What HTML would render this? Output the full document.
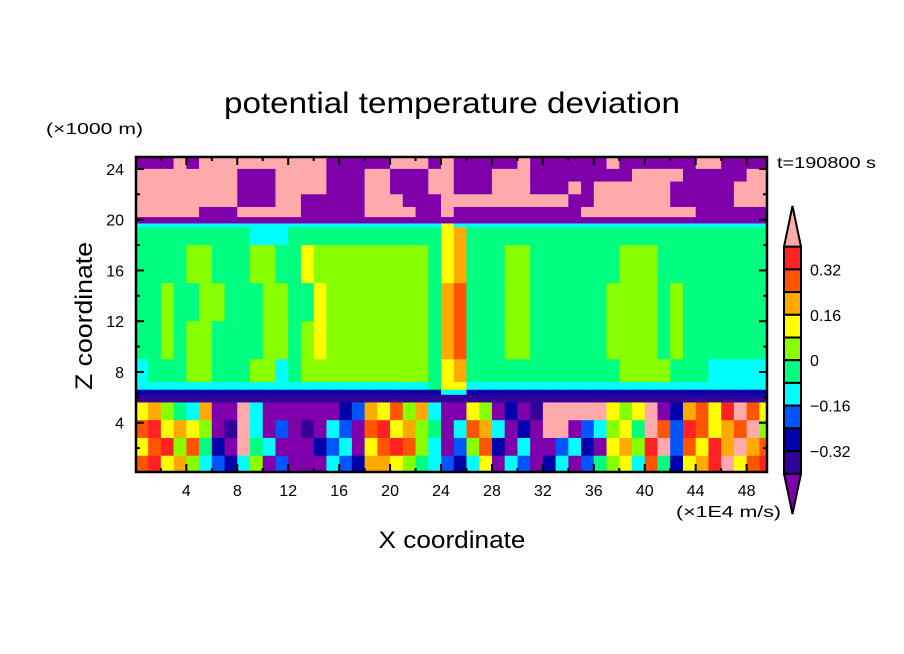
<!DOCTYPE html>
<html><head><meta charset="utf-8"><style>
html,body{margin:0;padding:0;background:#fff;}
svg{display:block;font-family:"Liberation Sans",sans-serif;}
</style></head><body>
<svg id="chart" width="904" height="654" viewBox="0 0 904 654">
<text x="452" y="113" font-size="30" text-anchor="middle" textLength="456" lengthAdjust="spacingAndGlyphs">potential temperature deviation</text>
<text x="46" y="134" font-size="16" textLength="97" lengthAdjust="spacingAndGlyphs">(×1000 m)</text>
<text x="777" y="168" font-size="16" textLength="99" lengthAdjust="spacingAndGlyphs">t=190800 s</text>
<text x="0" y="0" font-size="24" text-anchor="middle" transform="translate(92,316) rotate(-90)" textLength="148" lengthAdjust="spacingAndGlyphs">Z coordinate</text>
<text x="452" y="548" font-size="24" text-anchor="middle" textLength="147" lengthAdjust="spacingAndGlyphs">X coordinate</text>
<text x="676" y="517" font-size="16" textLength="105" lengthAdjust="spacingAndGlyphs">(×1E4 m/s)</text>
<defs><clipPath id="plotclip"><rect x="136" y="157" width="631" height="315"/></clipPath></defs>
<g id="field" clip-path="url(#plotclip)"></g>
<g id="axes"></g>
<g id="cbar"></g>
</svg>
<script>
const xMin = 0, xMax = 49.6, zMin = 0, zMax = 25;
const xTicks = [4,8,12,16,20,24,28,32,36,40,44,48];
const zTicks = [4,8,12,16,20,24];
const rowTop =    [25,24,23,22,21,20.2,19.7,19.4,18,15,12,9,7.2,6.6,6.2,5.6,4.2,2.8,1.4];
const rowBottom = [24,23,22,21,20.2,19.7,19.4,18,15,12,9,7.2,6.6,6.2,5.6,4.2,2.8,1.4,0];
const rowCodes = [
"PPPkPkkkkkkkkkkPPPPPkkkPkPPPPPkPPPPPPkPPPPPPkkPPPP",
"kkkkkkkkPPPkkkkPPPkkPPPkkPPPkkkPPPPPPPPkkkkPPPPPkk",
"kkkkkkkkPPPkkkkPPPkkPPPkkPPPkkkPPPkPkkkkkkPPPPPkkk",
"kkkkkkkkPPPkkPPPPPkkkPPPkkkkkkkkkkPPkkkkkkPPPPPkkk",
"kkkkkPPPkkkkkPPPPPkkkkPPkPPPPPPPPPPkkkkkkkkkPPPPPP",
"PPPPPPPPPPPPPPPPPPPPPPPPPPPPPPPPPPPPPPPPPPPPPPPPPP",
"ccccccccccccccccccccccccYccccccccccccccccccccccccc",
"gggggggggcccggggggggggggYogggggggggggggggggggggggg",
"ggggyygggyyggYyyyyyyyyygYogggyygggggggyyyggggggggg",
"ggyggyygggyyggYyyyyyyyygoOgggyyggggggyyyygyggggggg",
"ggygyyggggyygyYyyyyyyyygoOgggyyggggggyyyygyggggggg",
"cgggyygggyycgyyyyyyyyyygYoggggggggggggyyyygggcccccc",
"cccccccccccccccccccccccgYYcccccccccccccccccccccccc",
"ddddddddddddddddddddddddccdddddddddddddddddddddddd",
"iiiiiiiiiiiiiiiiiiiiiiiiiiiiiiiiiiiiiiiiiiiiiiiiii",
"YoygcoPPkcPPPPPPdboYOyocPPYyPdPikkkkkYyYkPdoOYrkOY",
"OrYoYyPikcPbPiPcbPOrYoygPcOocPdPkkPbcyYgkObrOYoOky",
"YOryOgdPkgcPPPdbcPYOrOycPbyOdPcPPbcdPYoyrkbOYrokoO",
"OrYoycbdcyPbPPPcbdooYygcbdcYPcbPdcPbgyYcOgdYorkYOr"
];
const palette = {P:"#7f00aa",i:"#330099",d:"#0000aa",b:"#0055ff",c:"#00ffff",g:"#00ff80",y:"#88ff00",Y:"#ffff00",o:"#ffaa00",O:"#ff5500",r:"#ff2222",k:"#ffaaaa"};
const cbarCodes = ["r","O","o","Y","y","g","c","b","d","i"];
const cbarLabels = ["0.32","0.16","0","-0.16","-0.32"];
const cbarLabelIdx = [1,3,5,7,9];

const X0 = 135.4, X1 = 767, Y0 = 473.5, Y1 = 156.2;
function xs(v){return X0 + (v - xMin) / (xMax - xMin) * (X1 - X0);}
function zs(v){return Y0 - (v - zMin) / (zMax - zMin) * (Y0 - Y1);}
const NS = "http://www.w3.org/2000/svg";
function mk(tag, attrs, parent){const e=document.createElementNS(NS,tag);for(const k in attrs)e.setAttribute(k,attrs[k]);parent.appendChild(e);return e;}

const field = document.getElementById('field');
for (let r = 0; r < rowCodes.length; r++) {
  const s = rowCodes[r];
  const y = zs(rowTop[r]), h = zs(rowBottom[r]) - y;
  for (let j = 0; j < s.length; j++) {
    const x = xs(j), w = xs(j + 1) - x;
    const el = mk('rect', {x: x, y: y, width: w + 0.6, height: h + 0.6, fill: palette[s[j]]}, field);
    
    
  }
}

const axes = document.getElementById('axes');
const frame = mk('rect', {x:136, y:157, width:631, height:315, fill:"none", stroke:"#000", "stroke-width":2.5}, axes);


for (let v = 2; v < xMax; v += 2) {
  const major = xTicks.includes(v), L = major ? 8 : 4, x = xs(v);
  mk('line', {x1:x, y1:472, x2:x, y2:472-L, stroke:"#000", "stroke-width":2}, axes);
  mk('line', {x1:x, y1:157, x2:x, y2:157+L, stroke:"#000", "stroke-width":2}, axes);
}
for (const v of xTicks) {
  const t = mk('text', {x: xs(v), y: 496, "font-size": 16, "text-anchor": "middle"}, axes);
  t.textContent = v;
  
  
}
for (let v = 2; v < zMax; v += 2) {
  const major = zTicks.includes(v), L = major ? 8 : 4, y = zs(v);
  mk('line', {x1:136, y1:y, x2:136+L, y2:y, stroke:"#000", "stroke-width":2}, axes);
  mk('line', {x1:767, y1:y, x2:767-L, y2:y, stroke:"#000", "stroke-width":2}, axes);
}
for (const v of zTicks) {
  const t = mk('text', {x: 124, y: zs(v) + 6, "font-size": 16, "text-anchor": "end"}, axes);
  t.textContent = v;
  
  
}

const cbar = document.getElementById('cbar');
const cbX = 784, cbW = 17, cbTop = 246.7, cbBox = 22.7;
const tri1 = mk('polygon', {points: `${cbX},${cbTop} ${cbX+cbW},${cbTop} ${cbX+cbW/2},206`, fill: palette.k, stroke:"#000", "stroke-width":2}, cbar);


const cbBottom = cbTop + cbBox * cbarCodes.length;
const tri2 = mk('polygon', {points: `${cbX},${cbBottom} ${cbX+cbW},${cbBottom} ${cbX+cbW/2},514`, fill: palette.P, stroke:"#000", "stroke-width":2}, cbar);


cbarCodes.forEach((c, i) => {
  const b = mk('rect', {x: cbX, y: cbTop + i*cbBox, width: cbW, height: cbBox, fill: palette[c], stroke:"#000", "stroke-width":2}, cbar);
  
  
});
cbarLabels.forEach((lab, i) => {
  const t = mk('text', {x: 810, y: cbTop + cbarLabelIdx[i]*cbBox + 6, "font-size": 16}, cbar);
  t.textContent = lab.replace('-', '\u2212');
  
  
});
</script>
</body></html>
